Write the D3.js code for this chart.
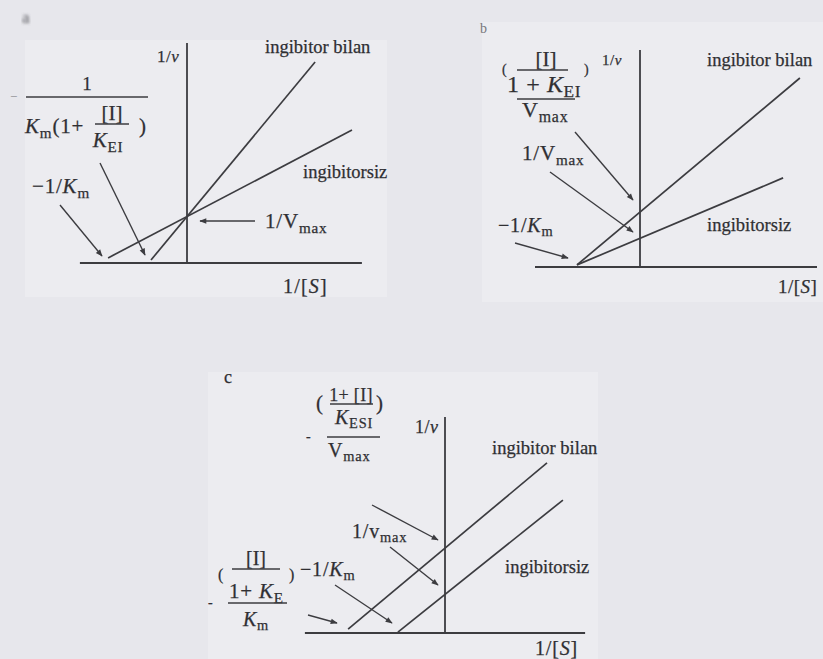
<!DOCTYPE html>
<html>
<head>
<meta charset="utf-8">
<script src="https://cdn.jsdelivr.net/npm/d3@7"></script>
<style>
  html, body { margin: 0; padding: 0; background: #e7e7ec; }
  svg { display: block; }
  text { font-family: "Liberation Serif", "DejaVu Serif", serif; fill: #2f2f33; stroke: #2f2f33; stroke-width: 0.25; }
</style>
</head>
<body>
<svg id="chart" width="823" height="659"></svg>
<script>
// ---- Lineweaver–Burk plots: competitive (a), non-competitive (b), uncompetitive (c) ----
const panelIds = ['a', 'b', 'c'];
const xAxisLabel = '1/[S]';
const yAxisLabel = '1/v';
const seriesNames = ['ingibitor bilan', 'ingibitorsiz'];

// Axis extents in plot units [1/[S]] and [1/v]
const xDomainA = [-3.57, 5.83], yDomainA = [0, 7.33];
const xDomainB = [-3.5, 5.9],   yDomainB = [0, 7.23];
const xDomainC = [-4.67, 4.67], yDomainC = [0, 7.2];

// Line end points [1/[S], 1/v] for each series
const inhibitedA   = [[-1.2, 0.1],   [4.27, 6.7]];
const uninhibitedA = [[-2.63, 0.17], [5.5, 4.43]];
const inhibitedB   = [[-2.1, 0.07],  [5.33, 6.3]];
const uninhibitedB = [[-2.1, 0.07],  [4.77, 2.97]];
const inhibitedC   = [[-3.23, 0.13], [3.4, 5.67]];
const uninhibitedC = [[-1.57, 0.03], [3.93, 4.43]];

const svg = d3.select('#chart');
const INK = '#3c3c40';
const FS = 18.5;   // series labels
const MS = 20;     // formula labels

// paper patches behind each figure
[[25, 40, 362, 257], [482, 22, 341, 280], [208, 372, 390, 287]].forEach(([x, y, w, h]) => {
  svg.append('rect').attr('x', x).attr('y', y).attr('width', w).attr('height', h).attr('fill', '#ececf0');
});

const defs = svg.append('defs');
defs.append('marker').attr('id', 'head')
  .attr('viewBox', '0 0 10 10').attr('refX', 9).attr('refY', 5)
  .attr('markerWidth', 10).attr('markerHeight', 7).attr('markerUnits', 'userSpaceOnUse')
  .attr('orient', 'auto')
  .append('path').attr('d', 'M0,1 L10,5 L0,9 Z').attr('fill', INK);
defs.append('filter').attr('id', 'smear')
  .append('feGaussianBlur').attr('stdDeviation', 1.6);

// rich text: parts are [string, flags] with flags 'i' italic, 's' subscript
function rich(g, x, y, parts, opts = {}) {
  const size = opts.size || MS;
  const t = g.append('text').attr('x', x).attr('y', y)
    .attr('font-size', size).attr('text-anchor', opts.anchor || 'start')
    .attr('letter-spacing', opts.ls == null ? 0.8 : opts.ls);
  const drop = Math.round(size * 0.22);
  let down = false;
  parts.forEach(([s, f = '']) => {
    const ts = t.append('tspan').text(s);
    if (f.includes('i')) ts.attr('font-style', 'italic');
    if (f.includes('s')) {
      ts.attr('font-size', size * 0.72);
      if (!down) { ts.attr('dy', drop); down = true; }
    } else if (down) { ts.attr('dy', -drop); down = false; }
  });
  return t;
}
function rule(g, x1, x2, y) {
  g.append('line').attr('x1', x1).attr('x2', x2).attr('y1', y).attr('y2', y)
    .attr('stroke', INK).attr('stroke-width', 1.3);
}
function arrow(g, x1, y1, x2, y2) {
  g.append('line').attr('x1', x1).attr('y1', y1).attr('x2', x2).attr('y2', y2)
    .attr('stroke', INK).attr('stroke-width', 1.4).attr('marker-end', 'url(#head)');
}

function drawPanel(cfg) {
  const g = svg.append('g');
  const x = d3.scaleLinear().domain(cfg.xDomain)
    .range([cfg.ox + cfg.xDomain[0] * 30, cfg.ox + cfg.xDomain[1] * 30]);
  const y = d3.scaleLinear().domain(cfg.yDomain)
    .range([cfg.oy - cfg.yDomain[0] * 30, cfg.oy - cfg.yDomain[1] * 30]);
  const line = d3.line().x(d => x(d[0])).y(d => y(d[1]));

  // axes
  g.append('path').attr('d', line([[cfg.xDomain[0], 0], [cfg.xDomain[1], 0]]))
    .attr('stroke', INK).attr('stroke-width', 1.8);
  g.append('path').attr('d', line([[0, 0], [0, cfg.yDomain[1]]]))
    .attr('stroke', INK).attr('stroke-width', 1.8);

  // series lines
  [cfg.inhibited, cfg.uninhibited].forEach(pts => {
    g.append('path').attr('d', line(pts)).attr('fill', 'none')
      .attr('stroke', INK).attr('stroke-width', 1.7);
  });

  cfg.decor(g);
}

const yLab = [['1/'], ['v', 'i']];
const xLab = [['1/['], ['S', 'i'], [']']];
const negKm = [['−1/'], ['K', 'i'], ['m', 's']];

// (a) competitive
drawPanel({
  ox: 187, oy: 263, xDomain: xDomainA, yDomain: yDomainA,
  inhibited: inhibitedA, uninhibited: uninhibitedA,
  decor(g) {
    g.append('text').attr('x', 22).attr('y', 23).attr('font-size', 17)
      .attr('filter', 'url(#smear)').style('fill', '#55555a').style('stroke', 'none').text(panelIds[0]);
    rich(g, 157, 62, yLab, { size: 17, ls: 0.5 });
    rich(g, 265, 53, [[seriesNames[0]]], { size: FS, ls: 0 });
    rich(g, 303, 178, [[seriesNames[1]]], { size: FS, ls: 0 });
    rich(g, 283, 293, xLab, { ls: 1.2 });
    rich(g, 265, 228, [['1/V'], ['max', 's']], { size: 21 });
    rich(g, 32, 193, negKm, { size: 21 });
    // −1 / (Km(1 + [I]/KEI))
    g.append('text').attr('x', 10).attr('y', 101).attr('font-size', 13)
      .style('fill', '#8a8a90').style('stroke', 'none').text('−');
    rich(g, 87, 90, [['1']], { anchor: 'middle', size: 19, ls: 0 });
    rule(g, 26, 148, 97);
    rich(g, 25, 133, [['K', 'i'], ['m', 's'], ['(1+']], { size: 21 });
    rich(g, 112, 120, [['[I]']], { anchor: 'middle', size: 21, ls: 0 });
    rule(g, 95, 129, 124);
    rich(g, 108, 147, [['K', 'i'], ['EI', 's']], { anchor: 'middle', size: 21 });
    rich(g, 139, 133, [[')']], { size: 21 });
    arrow(g, 60, 205, 102, 256);
    arrow(g, 100, 163, 145, 255);
    arrow(g, 255, 221, 200, 221);
  }
});

// (b) non-competitive
drawPanel({
  ox: 640, oy: 267, xDomain: xDomainB, yDomain: yDomainB,
  inhibited: inhibitedB, uninhibited: uninhibitedB,
  decor(g) {
    g.append('text').attr('x', 480).attr('y', 33).attr('font-size', 14)
      .style('fill', '#77777c').style('stroke', 'none').text(panelIds[1]);
    rich(g, 602, 65, yLab, { size: 15, ls: 0.5 });
    rich(g, 707, 66, [[seriesNames[0]]], { size: FS, ls: 0 });
    rich(g, 707, 231, [[seriesNames[1]]], { size: FS, ls: 0 });
    rich(g, 778, 293, xLab, { size: 19, ls: 0.5 });
    rich(g, 522, 160, [['1/V'], ['max', 's']], { size: 21 });
    rich(g, 498, 232, negKm);
    // (1 + [I]/KEI) / Vmax
    rich(g, 502, 74, [['(']], { size: 14 });
    rich(g, 546, 66, [['[I]']], { anchor: 'middle', size: 21, ls: 0 });
    rule(g, 517, 568, 70);
    rich(g, 584, 74, [[')']], { size: 14 });
    rich(g, 507, 92, [['1 + '], ['K', 'i'], ['EI', 's']], { size: 24, ls: 0.6 });
    rule(g, 517, 575, 99);
    rich(g, 522, 117, [['V'], ['max', 's']], { size: 22 });
    arrow(g, 575, 132, 633, 200);
    arrow(g, 550, 172, 633, 232);
    arrow(g, 515, 243, 568, 258);
  }
});

// (c) uncompetitive
drawPanel({
  ox: 445, oy: 633, xDomain: xDomainC, yDomain: yDomainC,
  inhibited: inhibitedC, uninhibited: uninhibitedC,
  decor(g) {
    rich(g, 224, 383, [[panelIds[2]]], { size: 18 });
    rich(g, 415, 433, yLab, { size: 18, ls: 0.5 });
    rich(g, 492, 454, [[seriesNames[0]]], { size: FS, ls: 0 });
    rich(g, 505, 573, [[seriesNames[1]]], { size: FS, ls: 0 });
    rich(g, 535, 655, xLab);
    rich(g, 352, 538, [['1/v'], ['max', 's']]);
    rich(g, 300, 576, negKm);
    // −(1 + [I]/KESI) / Vmax
    rich(g, 316, 410, [['(']], { size: 21 });
    rich(g, 351, 401, [['1+ [I]']], { anchor: 'middle', size: 18, ls: 0.3 });
    rule(g, 330, 373, 404);
    rich(g, 376, 410, [[')']], { size: 21 });
    rich(g, 354, 424, [['K', 'i'], ['ESI', 's']], { anchor: 'middle' });
    rich(g, 306, 441, [['-']], { size: 14 });
    rule(g, 327, 380, 437);
    rich(g, 328, 457, [['V'], ['max', 's']]);
    // −(1 + [I]/KE) / Km
    rich(g, 218, 580, [['(']], { size: 16 });
    rich(g, 256, 565, [['[I]']], { anchor: 'middle', ls: 0 });
    rule(g, 232, 280, 569);
    rich(g, 289, 580, [[')']], { size: 16 });
    rich(g, 229, 598, [['1+ '], ['K', 'i'], ['E', 's']], { size: 21 });
    rich(g, 208, 607, [['-']], { size: 14 });
    rule(g, 228, 287, 603);
    rich(g, 256, 626, [['K', 'i'], ['m', 's']], { anchor: 'middle' });
    arrow(g, 372, 505, 438, 540);
    arrow(g, 390, 547, 438, 585);
    arrow(g, 335, 585, 392, 623);
    arrow(g, 308, 615, 337, 623);
  }
});
</script>
</body>
</html>
